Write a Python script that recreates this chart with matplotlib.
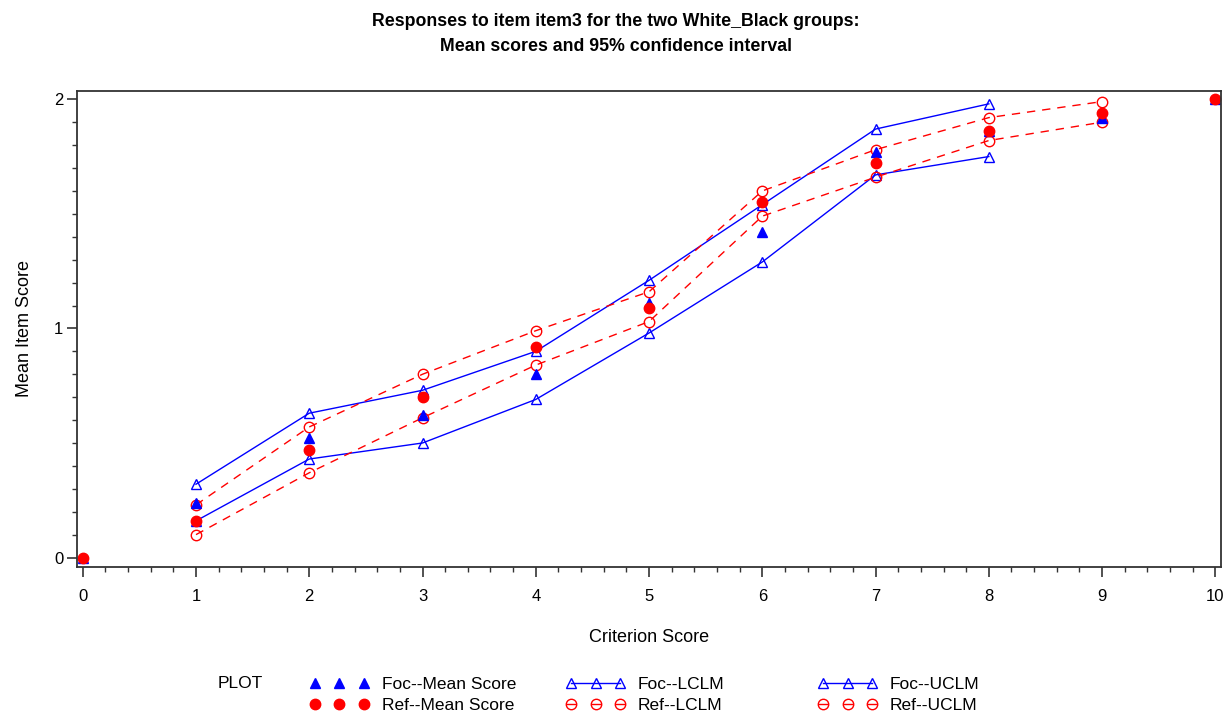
import numpy as np
import matplotlib
matplotlib.use('Agg')
import matplotlib.pyplot as plt
from matplotlib.lines import Line2D
from matplotlib.ticker import MultipleLocator

plt.rcParams['font.family'] = ['Liberation Sans', 'DejaVu Sans']

# criterion score values
score = [0, 1, 2, 3, 4, 5, 6, 7, 8, 9, 10]

# focal group
foc_mean = [0.0, 0.24, 0.52, 0.62, 0.80, 1.11, 1.42, 1.77, 1.86, 1.92, 2.0]
foc_lclm = [np.nan, 0.16, 0.43, 0.50, 0.69, 0.98, 1.29, 1.67, 1.75, np.nan, np.nan]
foc_uclm = [np.nan, 0.32, 0.63, 0.73, 0.90, 1.21, 1.54, 1.87, 1.98, np.nan, np.nan]

# reference group
ref_mean = [0.0, 0.16, 0.47, 0.70, 0.92, 1.09, 1.55, 1.72, 1.86, 1.94, 2.0]
ref_lclm = [np.nan, 0.10, 0.37, 0.61, 0.84, 1.03, 1.49, 1.66, 1.82, 1.90, np.nan]
ref_uclm = [np.nan, 0.23, 0.57, 0.80, 0.99, 1.16, 1.60, 1.78, 1.92, 1.99, np.nan]

blue = '#0000ff'
red = '#ff0000'
dash = (0, (6, 5))
ms = 7.5

fig = plt.figure(figsize=(12.31, 7.18), dpi=100)
ax = fig.add_axes([0.0626, 0.2107, 0.9293, 0.663])

ax.plot(score, foc_lclm, color=blue, lw=1.0, marker='^', ms=ms, mfc='none', mec=blue, mew=1.0)
ax.plot(score, foc_uclm, color=blue, lw=1.0, marker='^', ms=ms, mfc='none', mec=blue, mew=1.0)
ax.plot(score, ref_lclm, color=red, lw=1.0, ls=dash, marker='o', ms=ms, mfc='none', mec=red, mew=1.0)
ax.plot(score, ref_uclm, color=red, lw=1.0, ls=dash, marker='o', ms=ms, mfc='none', mec=red, mew=1.0)
ax.plot(score, foc_mean, ls='none', marker='^', ms=ms, color=blue)
ax.plot(score, ref_mean, ls='none', marker='o', ms=ms, color=red)

ax.set_xlim(-0.05, 10.05)
ax.set_ylim(-0.04, 2.0375)
ax.set_xticks(range(11))
ax.set_yticks([0, 1, 2])
ax.xaxis.set_minor_locator(MultipleLocator(0.2))
ax.yaxis.set_minor_locator(MultipleLocator(0.1))
ax.tick_params(which='major', length=7, width=1.2, color='#333333', labelsize=12)
ax.tick_params(which='minor', length=3.6, width=1.0, color='#333333')
ax.tick_params(axis='x', which='major', pad=9)
ax.tick_params(axis='y', which='major', pad=3)
for s in ax.spines.values():
    s.set_color('#333333')
    s.set_linewidth(1.3)

ax.set_xlabel('Criterion Score', fontsize=13, labelpad=18)
ax.set_ylabel('Mean Item Score', fontsize=13, labelpad=15)

fig.suptitle('Responses to item item3 for the two White_Black groups:\nMean scores and 95% confidence interval',
             fontsize=12.8, fontweight='bold', y=0.982, linespacing=1.6)

# legend, three fixed columns
fm = Line2D([], [], ls='none', marker='^', ms=ms, color=blue)
rm = Line2D([], [], ls='none', marker='o', ms=ms, color=red)
fl = Line2D([], [], color=blue, lw=1.0, marker='^', ms=ms, mfc='none', mec=blue)
rl = (Line2D([], [], ls='none', marker='o', ms=ms, mfc='none', mec=red),
      Line2D([], [], ls='none', marker='_', ms=ms - 1, mec=red))
cols = [
    ([fm, rm], ['Foc--Mean Score', 'Ref--Mean Score'], 0.2518),
    ([fl, rl], ['Foc--LCLM', 'Ref--LCLM'], 0.4598),
    ([fl, rl], ['Foc--UCLM', 'Ref--UCLM'], 0.6645),
]
for hs, ls_, x0 in cols:
    leg = fig.legend(hs, ls_, numpoints=3, handlelength=3.4, handletextpad=0.75,
                     labelspacing=0.35, frameon=False, fontsize=12.5,
                     borderpad=0, borderaxespad=0,
                     loc='center left', bbox_to_anchor=(x0, 0.032))
fig.text(0.177, 0.048, 'PLOT', fontsize=12.5, va='center')

fig.savefig('out.png', dpi=100)
